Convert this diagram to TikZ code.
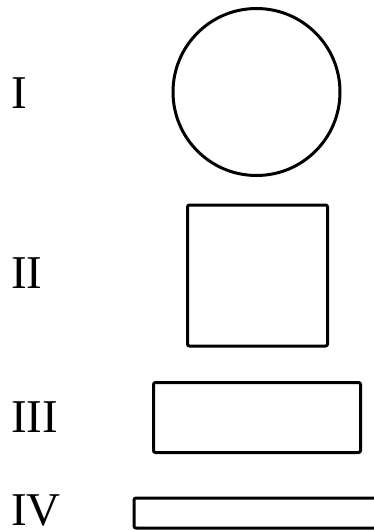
\documentclass[tikz,border=0pt]{standalone}
\usepackage{fontspec}
\setmainfont{Liberation Serif}
\usepackage{tikz}
\usetikzlibrary{positioning}

\begin{document}
\begin{tikzpicture}[x=1pt,y=-1pt,
  num/.style={anchor=base west,inner sep=0pt,font=\fontsize{47}{50}\selectfont},
  fig/.style={draw,line width=3pt,inner sep=0pt},
  blok/.style={fig,rectangle,rounded corners=2pt}]
  \useasboundingbox (0,0) rectangle (374,530);
  \clip (0,0) rectangle (374,530);

  % bentuk
  \node[fig,circle,minimum size=167pt] (lingkaran) at (256.5,92) {};
  \node[blok,minimum width=140pt,minimum height=141pt] (persegi) at (257.5,275.5) {};
  \node[blok,minimum width=207pt,minimum height=70pt] (balok) at (257,417.5) {};
  \node[blok,minimum width=260pt,minimum height=30pt] (pipih) at (264,513) {};

  % label
  \node[num] (l1) at (11,108) {I};
  \node[num] (l2) at (11,288) {II};
  \node[num] (l3) at (11,432) {III};
  \node[num] (l4) at (11,525) {IV};
\end{tikzpicture}
\end{document}
